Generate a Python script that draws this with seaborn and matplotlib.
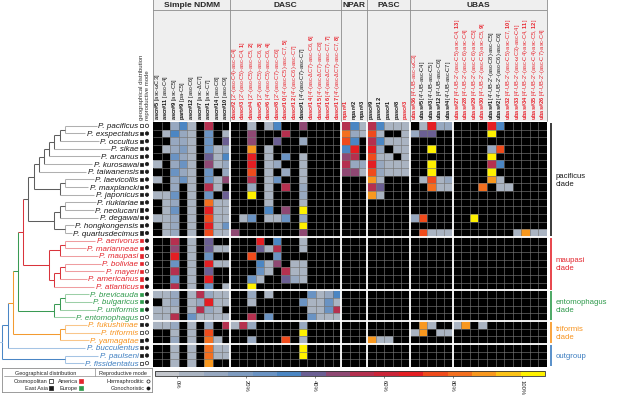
import numpy as np
import pandas as pd
import matplotlib
matplotlib.use("Agg")
import matplotlib.pyplot as plt
from matplotlib.colors import ListedColormap
import seaborn as sns

sns.set_style("white")
plt.rcParams["font.family"] = ["Liberation Sans", "DejaVu Sans"]
plt.rcParams["mathtext.fontset"] = "custom"
plt.rcParams["mathtext.rm"] = "Liberation Sans"
plt.rcParams["mathtext.bf"] = "Liberation Sans:bold"
plt.rcParams["mathtext.it"] = "Liberation Sans:italic"

W, H = 617, 402

# ---------------- data ----------------
groups = ["Simple NDMM", "DASC", "NPAR", "PASC", "UBAS"]
group_sizes = [9, 13, 3, 5, 16]
ubas_split = 5

compound_ids = ["ascr#5", "ascr#11", "ascr#9", "part#9", "ascr#12", "ascr#7", "ascr#1", "ascr#14", "ascr#10",
                "dasc#2", "dasc#3", "dasc#4", "dasc#5", "dasc#6", "dasc#8", "dasc#10", "dasc#12", "dasc#1",
                "dasc#14", "dasc#15", "dasc#16", "dasc#17",
                "npar#1", "npar#2", "npar#3",
                "pasc#9", "pasc#12", "pasc#1", "pasc#8", "pasc#3",
                "ubas#36", "ubas#5", "ubas#3", "ubas#12", "ubas#4", "ubas#27", "ubas#28", "ubas#29", "ubas#30",
                "ubas#1", "ubas#2", "ubas#32", "ubas#33", "ubas#34", "ubas#35", "ubas#26"]
compound_structs = ["asc-ωC3", "asc-C4", "asc-C5", "pa-C5", "asc-C6", "asc-ΔC7", "asc-C7", "asc-C8", "asc-C9",
                    "2'-(asc-C4)-asc-C4", "2'-(asc-C5)-asc-C4", "2'-(asc-C5)-asc-C5", "2'-(asc-C5)-asc-C6",
                    "4'-(asc-C5)-asc-C6", "2'-(asc-C7)-asc-C6", "4'-(asc-C5)-asc-C7", "4'-(asc-C6)-asc-C7",
                    "4'-(asc-C7)-asc-C7", "4'-(asc-ΔC7)-asc-C6", "4'-(asc-ΔC7)-asc-C8", "4'-(asc-ΔC7)-asc-C7",
                    "4'-(asc-ΔC7)-asc-C7",
                    "", "", "",
                    "", "", "", "", "",
                    "4'-UB-asc-ωC3", "4'-UB-asc-C4", "4'-UB-asc-C5", "4'-UB-asc-C6", "4'-UB-asc-C7",
                    "4'-UB-2'-(asc-C5)-asc-C4", "4'-UB-2'-(asc-C6)-asc-C4", "4'-UB-2'-(asc-C6)-asc-C5",
                    "4'-UB-2'-(asc-C5)-asc-C5", "4'-UB-2'-(asc-C8)-asc-C5", "4'-UB-2'-(asc-C6)-asc-C6",
                    "4'-UB-2'-(asc-C5)-asc-C7", "4'-UB-2'-(asc-ωC3)-asc-C4", "4'-UB-2'-(asc-C4)-asc-C4",
                    "4'-UB-2'-(asc-C4)-asc-C5", "4'-UB-2'-(asc-C7)-asc-C4"]
compound_marks = ["", "", "", "", "", "", "", "", "",
                  "", "1", "2", "3", "4", "", "5", "", "", "6", "", "7", "8",
                  "", "", "",
                  "", "", "", "", "",
                  "", "", "", "", "", "13", "", "", "9", "", "", "10", "", "11", "12", ""]
compound_red = [0, 0, 0, 0, 0, 0, 0, 0, 0,
                1, 1, 1, 1, 1, 1, 1, 1, 0, 1, 1, 1, 1,
                1, 0, 0,
                0, 0, 0, 0, 1,
                1, 0, 0, 0, 0, 1, 1, 1, 1, 0, 0, 1, 1, 1, 1, 1]

clade_names = ["pacificus\nclade", "maupasi\nclade", "entomophagus\nclade", "triformis\nclade", "outgroup"]

pacificus_species = ["P. pacificus", "P. exspectatus", "P. occultus", "P. sikae", "P. arcanus", "P. kurosawai",
                     "P. taiwanensis", "P. laevicollis", "P. maxplancki", "P. japonicus", "P. riukiariae",
                     "P. neolucani", "P. degawai", "P. hongkongensis", "P. quartusdecimus"]
maupasi_species = ["P. aerivorus", "P. marianneae", "P. maupasi", "P. boliviae", "P. mayeri",
                   "P. americanus", "P. atlanticus"]
ento_species = ["P. brevicauda", "P. bulgaricus", "P. uniformis", "P. entomophagus"]
triformis_species = ["P. fukushimae", "P. triformis", "P. yamagatae"]
outgroup_species = ["P. bucculentus", "P. paulseni", "P. fissidentatus"]

# geography: C cosmopolitan, A East Asia, M America, E Europe ; mode: H hermaphroditic, G gonochoristic
geo = ["C"] + ["A"] * 14 + ["M"] * 7 + ["E", "E", "E", "C"] + ["A", "C", "A"] + ["A", "A", "C"]
mode = (["H"] + ["G"] * 14 + ["G", "G", "H", "H", "H", "G", "G"] + ["G", "G", "G", "H"]
        + ["G", "H", "G"] + ["G", "G", "H"])

pacificus_vals = [
    [0,0,12,30,2,0,55,0,0,  0,0,2,0,2,30,0,0,47,0,0,0,0,  55,30,2,  55,30,2,2,2,  0,2,67,12,12,  0,0,0,0,67,30,0,0,0,0,0],
    [0,2,30,12,2,0,28,0,2,  0,0,47,0,0,0,55,0,0,0,0,0,0,  80,12,2,  74,2,0,0,2,  12,40,40,0,0,  0,0,0,0,100,0,0,0,0,0,0],
    [0,0,12,12,2,0,28,0,40,  0,0,47,0,0,40,0,0,14,0,0,0,0,  74,30,0,  55,30,2,2,2,  0,0,0,0,0,  0,0,0,0,0,0,0,0,0,0,0],
    [0,2,12,20,2,0,28,2,12,  0,0,88,0,2,0,0,0,0,0,0,0,0,  30,67,0,  67,12,0,2,2,  0,0,100,0,0,  0,0,0,0,14,74,0,0,0,0,0],
    [0,0,28,14,2,0,40,2,30,  0,0,67,0,2,0,28,0,2,0,0,0,0,  47,55,0,  74,2,2,0,2,  0,0,0,0,0,  0,0,0,0,100,0,0,0,0,0,0],
    [2,0,12,28,2,0,47,2,14,  0,0,67,0,2,12,0,0,2,0,0,0,0,  55,12,12,  67,12,2,2,2,  0,0,100,0,0,  0,0,0,0,55,30,0,0,0,0,0],
    [0,0,28,12,2,0,28,0,12,  0,0,74,0,2,0,12,0,2,0,0,0,0,  47,47,2,  74,12,2,2,2,  0,0,100,0,0,  0,0,0,0,100,0,0,0,0,0,0],
    [2,0,12,28,2,0,28,2,47,  0,0,55,0,2,28,0,0,2,0,0,0,0,  0,0,0,  90,2,0,0,0,  0,2,74,2,12,  0,0,0,0,88,2,0,0,0,0,0],
    [0,0,12,0,2,0,55,2,0,  0,0,14,0,2,0,55,0,14,0,0,0,0,  0,0,0,  55,40,0,0,0,  0,0,80,2,2,  0,0,0,80,0,2,2,0,0,0,0],
    [2,2,28,0,2,0,28,0,40,  0,0,100,0,2,0,0,0,12,0,0,0,0,  0,0,0,  90,2,0,0,0,  0,0,0,0,0,  0,0,0,0,0,0,0,0,0,0,0],
    [0,2,12,0,2,0,80,2,2,  0,0,0,0,2,0,0,0,2,0,0,0,0,  0,0,0,  0,0,0,0,0,  0,0,0,0,0,  0,0,0,0,0,0,0,0,0,0,0],
    [0,2,28,0,2,0,67,2,2,  0,0,0,0,30,0,47,0,100,0,0,0,0,  0,0,0,  0,0,0,0,0,  0,0,0,0,0,  0,0,0,0,0,0,0,0,0,0,0],
    [2,2,12,0,2,0,74,2,2,  0,2,28,0,2,2,28,0,14,0,0,0,0,  0,0,0,  0,0,0,0,0,  12,74,0,0,0,  0,0,100,0,0,0,0,0,0,0,0],
    [0,2,12,0,2,0,67,2,28,  0,0,0,0,0,0,0,0,100,0,0,0,0,  0,0,0,  0,0,0,0,0,  0,0,0,0,0,  0,0,0,0,0,0,0,0,0,0,0],
    [0,2,12,0,2,0,74,2,2,  47,0,0,0,0,0,0,0,47,0,0,0,0,  0,0,0,  0,0,0,0,0,  0,74,2,2,2,  0,0,0,0,0,0,0,2,88,2,2],
]
maupasi_vals = [
    [0,0,55,0,2,0,40,0,0,  0,0,0,67,0,30,0,0,2,0,0,0,0,  0,0,0,  0,0,0,0,0,  0,0,0,0,0,  0,0,0,0,0,0,0,0,0,0,0],
    [0,0,47,0,2,0,40,2,2,  0,0,0,40,2,55,0,0,2,0,0,0,0,  0,0,0,  0,0,0,0,0,  0,0,0,0,0,  0,0,0,0,0,0,0,0,0,0,0],
    [0,0,67,0,2,0,28,0,0,  0,0,74,0,0,28,0,0,0,0,0,0,0,  0,0,0,  0,0,0,0,0,  0,0,0,0,0,  0,0,0,0,0,0,0,0,0,0,0],
    [0,0,28,0,2,0,67,2,2,  0,0,0,30,2,47,0,2,2,0,0,0,0,  0,0,0,  0,0,0,0,0,  0,0,0,0,0,  0,0,0,0,0,0,0,0,0,0,0],
    [0,0,55,0,2,0,40,0,0,  0,0,0,28,2,0,55,2,2,0,0,0,0,  0,0,0,  0,0,0,0,0,  0,0,0,0,0,  0,0,0,0,0,0,0,0,0,0,0],
    [0,0,28,0,2,0,67,0,0,  0,0,28,2,0,0,40,12,2,0,0,0,0,  0,0,0,  0,0,0,0,0,  0,0,0,0,0,  0,0,0,0,0,0,0,0,0,0,0],
    [0,0,55,0,2,0,28,0,2,  0,0,100,0,0,0,0,0,0,0,0,0,0,  0,0,0,  0,0,0,0,0,  0,0,0,0,0,  0,0,0,0,0,0,0,0,0,0,0],
]
ento_vals = [
    [2,2,12,0,2,55,12,2,2,  0,0,12,0,2,0,0,0,0,28,2,12,30,  0,0,0,  0,0,0,0,0,  0,0,0,0,0,  0,0,0,0,0,0,0,0,0,0,0],
    [0,2,12,0,2,12,67,2,2,  0,0,2,0,0,0,0,0,28,2,2,28,2,  0,0,0,  0,0,0,0,0,  0,0,0,0,0,  0,0,0,0,0,0,0,0,0,0,0],
    [2,2,2,0,2,55,12,2,0,  0,0,0,0,0,0,0,0,0,2,2,28,55,  0,0,0,  0,0,0,0,0,  0,0,0,0,0,  0,0,0,0,0,0,0,0,0,0,0],
    [2,2,55,0,28,2,2,2,2,  0,0,55,0,28,0,0,0,0,28,2,2,2,  0,0,0,  0,0,0,0,0,  0,0,0,0,0,  0,0,0,0,0,0,0,0,0,0,0],
]
triformis_vals = [
    [2,2,12,0,2,0,12,0,55,  2,55,12,0,0,0,0,0,12,0,0,0,0,  0,0,0,  0,0,0,0,0,  0,88,2,0,0,  2,88,0,2,0,0,0,0,0,0,0],
    [0,0,2,0,2,0,74,0,0,  0,0,0,0,0,0,0,0,100,0,0,0,0,  0,0,0,  0,0,0,0,0,  2,88,0,2,2,  0,0,0,0,0,0,0,0,0,0,0],
    [0,0,12,0,2,0,80,2,0,  0,0,12,0,0,0,74,0,2,0,0,0,0,  0,0,0,  88,2,2,0,0,  0,0,0,0,0,  0,0,0,0,0,0,0,0,0,0,0],
]
outgroup_vals = [
    [0,0,2,0,2,0,80,2,2,  0,0,0,0,0,0,0,0,100,0,0,0,0,  0,0,0,  0,0,0,0,0,  0,0,0,0,0,  0,0,0,0,0,0,0,0,0,0,0],
    [0,0,2,0,2,0,80,2,2,  0,0,0,0,0,0,0,0,100,0,0,0,0,  0,0,0,  0,0,0,0,0,  0,0,0,0,0,  0,0,0,0,0,0,0,0,0,0,0],
    [0,0,2,0,2,0,90,0,0,  0,0,0,0,0,0,0,0,0,0,0,0,0,  0,0,0,  0,0,0,0,0,  0,0,0,0,0,  0,0,0,0,0,0,0,0,0,0,0],
]

cbar_ticks = [0, 20, 40, 60, 80, 100]

# ---------------- styles ----------------
clade_text_colors = ["#1a1a1a", "#e3262e", "#2f9a4c", "#f7931e", "#3c7dc0"]
clade_line_colors = ["#5e5e5e", "#d9343c", "#3a9a54", "#f39a30", "#4a86c5"]
clade_tip_colors = ["#b0b0b0", "#ef9da0", "#9ccfa7", "#f9c68a", "#a5c4e4"]
geo_colors = {"C": "white", "A": "#1a1a1a", "M": "#e3262e", "E": "#2f9a4c"}
RED = "#e8202a"
cmap = ListedColormap(["#c3c6cc", "#aab4c2", "#97a8c0", "#7f9cc0", "#6a93c3", "#4b86c3",
                       "#6b5f93", "#8f4873", "#b5304f", "#cc2538", "#e41e23", "#ef4b1c",
                       "#f36f1f", "#f8981f", "#fbc318", "#fff100"])
VMIN, VMAX = -6.4, 106.8


def px_rect(x0, y0, x1, y1):
    return [x0 / W, 1 - y1 / H, (x1 - x0) / W, (y1 - y0) / H]


species_groups = [pacificus_species, maupasi_species, ento_species, triformis_species, outgroup_species]
species = sum(species_groups, [])
clade_of = {s: i for i, grp in enumerate(species_groups) for s in grp}
values = np.array(pacificus_vals + maupasi_vals + ento_vals + triformis_vals + outgroup_vals, dtype=float)
n_rows, n_cols = values.shape

df = pd.DataFrame(np.where(values == 0, np.nan, values), index=species, columns=compound_ids)

fig = plt.figure(figsize=(W / 100, H / 100), dpi=100)

# ---------------- heatmap ----------------
ax_hm = fig.add_axes(px_rect(153, 123, 547, 368))
cax = fig.add_axes(px_rect(155, 372, 545, 377))
sns.heatmap(df, ax=ax_hm, cmap=cmap, vmin=VMIN, vmax=VMAX, mask=df.isna(),
            cbar_ax=cax, cbar_kws={"orientation": "horizontal", "ticks": cbar_ticks},
            xticklabels=False, yticklabels=False)
ax_hm.set_facecolor("black")
ax_hm.hlines(np.arange(1, n_rows), 0, n_cols, color="#767676", lw=0.45)
ax_hm.vlines(np.arange(1, n_cols), 0, n_rows, color="#767676", lw=0.45)
col_bounds = list(np.cumsum(group_sizes)[:-1]) + [sum(group_sizes[:-1]) + ubas_split]
row_bounds = np.cumsum([len(g) for g in species_groups])[:-1]
ax_hm.vlines(col_bounds, 0, n_rows, color="white", lw=1.3)
ax_hm.hlines(row_bounds, 0, n_cols, color="white", lw=1.3)
ax_hm.set_xlabel("")
ax_hm.set_ylabel("")

cbar = ax_hm.collections[0].colorbar
cbar.set_ticks(cbar_ticks)
cbar.set_ticklabels([f"{t}%" for t in cbar_ticks])
cbar.ax.tick_params(axis="x", labelsize=4.2, length=1.5, width=0.4, pad=1, labelrotation=-90, colors="#222222")
cbar.outline.set_linewidth(0.6)
cbar.outline.set_edgecolor("#333333")

# ---------------- header ----------------
ax_head = fig.add_axes(px_rect(153, 0, 547, 122))
ax_head.set_xlim(0, n_cols)
ax_head.set_ylim(122, 0)
ax_head.set_facecolor("#efefef")
ax_head.set_xticks([])
ax_head.set_yticks([])
for s in ax_head.spines.values():
    s.set_visible(False)
edges = np.cumsum([0] + group_sizes)
for b in edges:
    ax_head.axvline(b, color="#8c8c8c", lw=0.6, clip_on=False)
ax_head.axhline(11, color="#8c8c8c", lw=0.6)
for name, a, b in zip(groups, edges[:-1], edges[1:]):
    ax_head.text((a + b) / 2, 5.5, name, ha="center", va="center", fontsize=6, fontweight="bold")
for c, (cid, st, mk, red) in enumerate(zip(compound_ids, compound_structs, compound_marks, compound_red)):
    label = "$\\mathbf{" + cid.replace("#", r"\#") + "}$"
    if st:
        label += " [" + st + (", $\\mathbf{" + mk + "}$" if mk else "") + "]"
    ax_head.text(c + 0.5, 120, label, rotation=90, ha="center", va="bottom",
                 fontsize=4.05, color=RED if red else "#111111")

fig.text(141.7 / W, 1 - 120 / H, "geographical distribution", rotation=90, ha="center", va="bottom",
         fontsize=4.3, color="#333333")
fig.text(147.0 / W, 1 - 120 / H, "reproductive mode", rotation=90, ha="center", va="bottom",
         fontsize=4.3, color="#333333")

# ---------------- tree and species ----------------
ax_tree = fig.add_axes(px_rect(0, 123, 153, 368))
ax_tree.set_xlim(0, 153)
ax_tree.set_ylim(n_rows, 0)
ax_tree.axis("off")
name_texts = {}
for i, s in enumerate(species):
    ci = clade_of[s]
    name_texts[s] = ax_tree.text(138.5, i + 0.5, s, ha="right", va="center", fontsize=5.8,
                                 style="italic", color=clade_text_colors[ci])
rows = np.arange(n_rows) + 0.5
ax_tree.scatter(np.full(n_rows, 141.7), rows, marker="s", s=5,
                facecolors=[geo_colors[g] for g in geo],
                edgecolors=["#1a1a1a" if g in "CA" else geo_colors[g] for g in geo], linewidths=0.5)
ax_tree.scatter(np.full(n_rows, 147.0), rows, marker="o", s=6,
                facecolors=["white" if m == "H" else "#1a1a1a" for m in mode],
                edgecolors="#1a1a1a", linewidths=0.5)

pac_clade = (((((((("P. pacificus", "P. exspectatus"), "P. occultus"), "P. sikae"), "P. arcanus"),
                 "P. kurosawai"), "P. taiwanensis"),
              (("P. laevicollis", "P. maxplancki"), "P. japonicus")),
             ((("P. riukiariae", "P. neolucani"), "P. degawai"), ("P. hongkongensis", "P. quartusdecimus")))
mau_clade = ((("P. aerivorus", "P. marianneae"), "P. maupasi"),
             ((("P. boliviae", "P. mayeri"), "P. americanus"), "P. atlanticus"))
ent_clade = ((("P. brevicauda", "P. bulgaricus"), "P. uniformis"), "P. entomophagus")
tri_clade = (("P. fukushimae", "P. triformis"), "P. yamagatae")
tree = (((((pac_clade, mau_clade), ent_clade), tri_clade), "P. bucculentus"), ("P. paulseni", "P. fissidentatus"))

fig.canvas.draw()
renderer = fig.canvas.get_renderer()
inv = ax_tree.transData.inverted()
tips_x = {s: inv.transform((t.get_window_extent(renderer).x0, 0))[0] - 1.2 for s, t in name_texts.items()}

X_TOP, STEP, LW = 70.0, 5.2, 0.75


def draw_node(node):
    if isinstance(node, str):
        return tips_x[node], species.index(node) + 0.5, 0, clade_of[node]
    kids = [draw_node(k) for k in node]
    h = 1 + max(k[2] for k in kids)
    x = X_TOP - STEP * h
    ys = [k[1] for k in kids]
    ci = max(k[3] for k in kids)
    vcol = clade_tip_colors[ci] if h == 1 else clade_line_colors[ci]
    ax_tree.plot([x, x], [min(ys), max(ys)], color=vcol, lw=LW, solid_capstyle="butt")
    for kx, ky, kh, kc in kids:
        col = clade_tip_colors[kc] if kh == 0 else clade_line_colors[kc]
        ax_tree.plot([x, kx], [ky, ky], color=col, lw=LW, solid_capstyle="butt")
    return x, (min(ys) + max(ys)) / 2, h, ci


rx, ry, _, rc = draw_node(tree)
ax_tree.plot([0, rx], [ry, ry], color=clade_tip_colors[rc], lw=LW)

# ---------------- clade bars ----------------
ax_r = fig.add_axes(px_rect(547, 123, 617, 368))
ax_r.set_xlim(547, 617)
ax_r.set_ylim(n_rows, 0)
ax_r.axis("off")
start = 0
for i, grp in enumerate(species_groups):
    end = start + len(grp)
    ax_r.plot([550.5, 550.5], [start + 0.12, end - 0.12], color=clade_text_colors[i], lw=1.2,
              solid_capstyle="butt")
    ax_r.text(555.5, (start + end) / 2, clade_names[i], ha="left", va="center", fontsize=5.6,
              color=clade_text_colors[i], linespacing=1.15)
    start = end

# ---------------- legend ----------------
ax_leg = fig.add_axes(px_rect(2, 369, 152, 393))
ax_leg.set_xlim(2, 152)
ax_leg.set_ylim(393, 369)
ax_leg.set_xticks([])
ax_leg.set_yticks([])
for s in ax_leg.spines.values():
    s.set_linewidth(0.6)
    s.set_edgecolor("#8c8c8c")
lf = 4.0
ax_leg.text(46, 373.2, "Geographical distribution", ha="center", va="center", fontsize=lf)
ax_leg.text(123, 373.2, "Reproductive mode", ha="center", va="center", fontsize=lf)
ax_leg.plot([4, 150], [376.6, 376.6], color="#8c8c8c", lw=0.5)
ax_leg.plot([95, 95], [369, 376.6], color="#8c8c8c", lw=0.5)
leg_items = [("Cosmopolitan", 50.5, 382, "s", "white"), ("America", 81, 382, "s", geo_colors["M"]),
             ("East Asia", 50.5, 388.5, "s", geo_colors["A"]), ("Europe", 81, 388.5, "s", geo_colors["E"]),
             ("Hermaphroditic", 147.5, 382, "o", "white"), ("Gonochoristic", 147.5, 388.5, "o", "#1a1a1a")]
for txt, mx, my, mk, fc in leg_items:
    ax_leg.text(mx - 3, my, txt, ha="right", va="center", fontsize=lf)
    ec = "#1a1a1a" if fc in ("white", "#1a1a1a") else fc
    ax_leg.scatter([mx], [my], marker=mk, s=5, facecolors=fc, edgecolors=ec, linewidths=0.5)

fig.savefig("out.png", dpi=100)
